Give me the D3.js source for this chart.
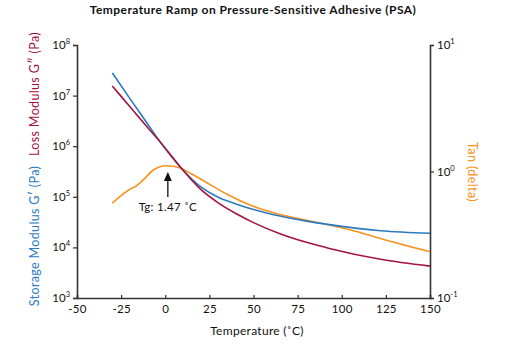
<!DOCTYPE html>
<html>
<head>
<meta charset="utf-8">
<script src="https://cdn.jsdelivr.net/npm/d3@7"></script>
<style>
  body { margin: 0; background: #fff; }
  svg { display: block; font-family: Lato, "Noto Sans", sans-serif; }
</style>
</head>
<body>
<svg id="chart" width="511" height="344"></svg>
<script>
// Temperature ramp: storage / loss modulus (log Pa) and tan delta (log)
const temps       = [-30, -20, -10, -3, 10, 20, 30, 40, 50, 65, 80, 93, 122, 150];
const logStorage  = [7.45, 6.94, 6.44, 6.09, 5.53, 5.20, 4.99, 4.86, 4.75, 4.62, 4.52, 4.45, 4.33, 4.28];
const logLoss     = [7.19, 6.78, 6.37, 6.09, 5.53, 5.15, 4.88, 4.67, 4.49, 4.27, 4.10, 3.98, 3.765, 3.63];

const tanTemps    = [-30, -25, -20, -17, -12, -7, -3, 0, 4, 8, 15, 25, 35, 48, 65, 80, 93, 110, 122, 135, 150];
const logTan      = [-0.25, -0.19, -0.14, -0.12, -0.06, 0.01, 0.038, 0.045, 0.042, 0.03, -0.02, -0.10, -0.18, -0.265, -0.34, -0.385, -0.423, -0.48, -0.53, -0.58, -0.634];

const xTicks      = [-50, -25, 0, 25, 50, 75, 100, 125, 150];
const leftExp     = [3, 4, 5, 6, 7, 8];
const rightExp    = [-1, 0, 1];
const tgValue     = 1.47;

const blue = '#2b7bbf', red = '#a4123f', orange = '#f7931e', axisCol = '#333';

const svg = d3.select('#chart');
const x  = d3.scaleLinear().domain([-50, 150]).range([77, 430]);
const yL = d3.scaleLog().domain([1e3, 1e8]).range([298, 45]);
const yR = d3.scaleLog().domain([0.1, 10]).range([298, 45]);

// title
svg.append('text').attr('x', 253).attr('y', 14).attr('text-anchor', 'middle')
  .attr('font-size', 12).attr('font-weight', 'bold').attr('letter-spacing', 0.45).attr('fill', '#111')
  .text('Temperature Ramp on Pressure-Sensitive Adhesive (PSA)');

// axes (plain hyphen for negatives)
const gx = svg.append('g').attr('transform', 'translate(0,298)')
  .call(d3.axisBottom(x).tickValues(xTicks).tickSize(-3).tickPadding(7).tickFormat(d => String(d)));
const gl = svg.append('g').attr('transform', 'translate(77,0)')
  .call(d3.axisLeft(yL).tickValues(leftExp.map(e => Math.pow(10, e))).tickSize(4).tickFormat(''));
const gr = svg.append('g').attr('transform', 'translate(430,0)')
  .call(d3.axisRight(yR).tickValues(rightExp.map(e => Math.pow(10, e))).tickSize(4).tickFormat(''));

[gx, gl, gr].forEach(g => {
  g.select('.domain').attr('stroke', axisCol).attr('stroke-width', 1.6);
  g.selectAll('.tick line').attr('stroke', axisCol).attr('stroke-width', 1.2);
  g.selectAll('.tick text').attr('fill', '#111').attr('font-size', 11.5).attr('letter-spacing', 0.3)
    .attr('font-family', 'Lato, "Noto Sans", sans-serif');
});

// power-of-ten labels
function powLabel(g, exps, scale, xPos, anchor) {
  exps.forEach(e => {
    const t = g.append('text').attr('x', xPos).attr('y', scale(Math.pow(10, e)) + 4)
      .attr('text-anchor', anchor).attr('font-size', 11.5).attr('fill', '#111');
    t.append('tspan').text('10');
    t.append('tspan').attr('dy', -5).attr('font-size', 7.5).text(e);
  });
}
powLabel(svg, leftExp, yL, 70, 'end');
powLabel(svg, rightExp, yR, 437, 'start');

// axis titles
svg.append('text').attr('x', 257).attr('y', 335).attr('text-anchor', 'middle')
  .attr('font-size', 12).attr('letter-spacing', 0.3).attr('fill', '#111').text('Temperature (\u02DAC)');
svg.append('text').attr('transform', 'translate(39,94) rotate(-90)').attr('text-anchor', 'middle')
  .attr('font-size', 12.5).attr('letter-spacing', 0.35).attr('fill', red).text('Loss Modulus G\u2033 (Pa)');
svg.append('text').attr('transform', 'translate(39,236) rotate(-90)').attr('text-anchor', 'middle')
  .attr('font-size', 12.5).attr('letter-spacing', 0.35).attr('fill', blue).text('Storage Modulus G\u2032 (Pa)');
svg.append('text').attr('transform', 'translate(468,172) rotate(90)').attr('text-anchor', 'middle')
  .attr('font-size', 12.5).attr('letter-spacing', 0.4).attr('fill', orange).text('Tan (delta)');

// curves
const lineL = d3.line().x(d => x(d[0])).y(d => yL(Math.pow(10, d[1]))).curve(d3.curveMonotoneX);
const lineR = d3.line().x(d => x(d[0])).y(d => yR(Math.pow(10, d[1]))).curve(d3.curveMonotoneX);

svg.append('path').datum(d3.zip(tanTemps, logTan)).attr('d', lineR)
  .attr('fill', 'none').attr('stroke', orange).attr('stroke-width', 1.6);
svg.append('path').datum(d3.zip(temps, logStorage)).attr('d', lineL)
  .attr('fill', 'none').attr('stroke', blue).attr('stroke-width', 1.6);
svg.append('path').datum(d3.zip(temps, logLoss)).attr('d', lineL)
  .attr('fill', 'none').attr('stroke', red).attr('stroke-width', 1.6);

// Tg marker
const tx = x(tgValue);
svg.append('line').attr('x1', tx).attr('x2', tx).attr('y1', 180).attr('y2', 197)
  .attr('stroke', '#111').attr('stroke-width', 1.3);
svg.append('path').attr('d', `M${tx},172 L${tx - 4},181 L${tx + 4},181 Z`).attr('fill', '#111');
svg.append('text').attr('x', tx).attr('y', 211).attr('text-anchor', 'middle')
  .attr('font-size', 11.5).attr('letter-spacing', 0.3).attr('fill', '#111').text('Tg: ' + tgValue + ' \u02DAC');
</script>
</body>
</html>
